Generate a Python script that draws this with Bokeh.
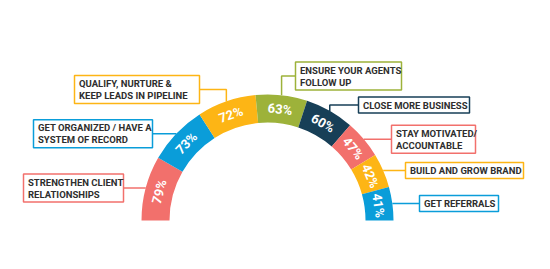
import math
from bokeh.plotting import figure
from bokeh.models import Range1d
from bokeh.core.properties import value
from bokeh.embed import file_html
from bokeh.resources import INLINE

# ---- data ----
labels = [
    "STRENGTHEN CLIENT\nRELATIONSHIPS",
    "GET ORGANIZED / HAVE A\nSYSTEM OF RECORD",
    "QUALIFY, NURTURE &\nKEEP LEADS IN PIPELINE",
    "ENSURE YOUR AGENTS\nFOLLOW UP",
    "CLOSE MORE BUSINESS",
    "STAY MOTIVATED/\nACCOUNTABLE",
    "BUILD AND GROW BRAND",
    "GET REFERRALS",
]
values = [79, 73, 72, 63, 60, 47, 42, 41]
colors = ["#F2706C", "#0A9DD9", "#FDB515", "#9DB23A", "#173F57", "#F2706C", "#FDB515", "#0A9DD9"]

# ---- layout (pixels, y down; converted below) ----
W, H = 550, 269
CX, CY_PX = 267, 220
R_OUT, R_IN = 126, 98
# side of box, box edge x nearest arc, box width, elbow box centre y (px) or None
box_side = ["L", "L", "L", "R", "R", "R", "R", "R"]
box_edge = [123, 152, 199, 295, 358, 391, 405, 419]
box_width = [100, 119, 125, 106, 111, 84, 118, 79]
box_elbow_y = [None, None, 89, 75.5, 104.5, None, None, None]

FONT = "Roboto"
TEXT_COLOR = "#2E2E2E"

def Y(py):
    return H - py

p = figure(width=W, height=H, x_range=Range1d(0, W), y_range=Range1d(0, H),
           output_backend="svg", toolbar_location=None, min_border=0)
p.axis.visible = False
p.grid.visible = False
p.outline_line_color = None
p.background_fill_color = "white"
p.border_fill_color = "white"

total = sum(values)
cy = Y(CY_PX)
cum = 0
starts, ends, mids = [], [], []
for v in values:
    a0 = math.pi - cum * math.pi / total
    cum += v
    a1 = math.pi - cum * math.pi / total
    starts.append(a1)
    ends.append(a0)
    mids.append((a0 + a1) / 2)

p.annular_wedge(x=[CX] * len(values), y=[cy] * len(values), inner_radius=R_IN, outer_radius=R_OUT,
                start_angle=starts, end_angle=ends, fill_color=colors, line_color=None,
                direction="anticlock")

r_mid = (R_IN + R_OUT) / 2
p.text(x=[CX + r_mid * math.cos(m) for m in mids], y=[cy + r_mid * math.sin(m) for m in mids],
       text=[f"{v}%" for v in values], angle=[m - math.pi / 2 for m in mids],
       text_align="center", text_baseline="middle", text_color="white",
       text_font=value(FONT), text_font_style="bold", text_font_size="13px")

LINE_H = 12
for i, lab in enumerate(labels):
    lines = lab.split("\n")
    m = mids[i]
    ax = CX + R_OUT * math.cos(m)
    ay = cy + R_OUT * math.sin(m)
    bh = 28 if len(lines) > 1 else 16
    if box_elbow_y[i] is None:
        by = ay
        xs = [ax, box_edge[i]]
        ys = [ay, ay]
    else:
        by = Y(box_elbow_y[i])
        xs = [ax, ax, box_edge[i]]
        ys = [ay, by, by]
    p.line(xs, ys, line_color=colors[i], line_width=1.5)
    if box_side[i] == "L":
        left, right = box_edge[i] - box_width[i], box_edge[i]
    else:
        left, right = box_edge[i], box_edge[i] + box_width[i]
    p.quad(left=[left], right=[right], top=[by + bh / 2], bottom=[by - bh / 2],
           fill_color="white", line_color=colors[i], line_width=1.5)
    n = len(lines)
    for k, ln in enumerate(lines):
        ty = by + (n - 1) * LINE_H / 2 - k * LINE_H
        p.text(x=[left + 4.5], y=[ty], text=[ln], text_align="left", text_baseline="middle",
               text_color=TEXT_COLOR, text_font=value(FONT), text_font_style="bold",
               text_font_size="9.5px")

open("out.html", "w").write(file_html(p, INLINE))
